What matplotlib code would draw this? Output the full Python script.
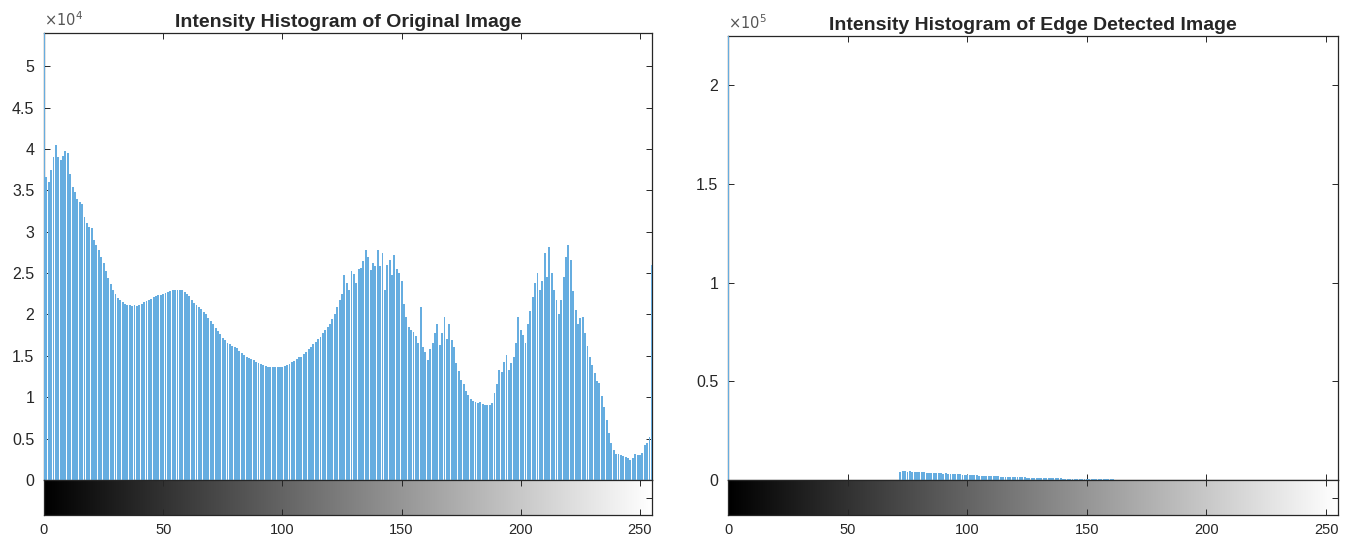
import numpy as np
import matplotlib
matplotlib.use("Agg")
import matplotlib.pyplot as plt
from matplotlib.ticker import FuncFormatter

plt.rcParams['font.family'] = ['Liberation Sans', 'DejaVu Sans']

levels = np.arange(256)

# counts (original image)
orig_counts = [
    54000, 36600, 36000, 37400, 39000, 40500, 39000, 38600, 39200, 39700, 39500, 37000, 35400, 34800, 34000, 33600,
    33400, 31800, 31000, 30600, 30500, 29000, 28400, 27800, 27000, 26200, 25200, 24400, 23700, 23000, 22500, 22000,
    21700, 21500, 21300, 21200, 21100, 21000, 21100, 21000, 21100, 21300, 21500, 21600, 21800, 21900, 22100, 22200,
    22300, 22400, 22500, 22600, 22700, 22800, 22900, 22900, 23000, 23000, 22900, 22700, 22500, 22200, 21800, 21400,
    21100, 20900, 20600, 20300, 20000, 19600, 19200, 18900, 18400, 18000, 17600, 17200, 16900, 16600, 16400, 16200,
    16100, 15900, 15600, 15300, 15100, 14900, 14700, 14600, 14500, 14300, 14100, 14000, 13900, 13800, 13700, 13700,
    13700, 13600, 13600, 13600, 13700, 13800, 13900, 14000, 14200, 14400, 14600, 14800, 14900, 15200, 15500, 15800,
    16100, 16400, 16700, 17000, 17300, 17700, 18100, 18500, 18900, 19500, 20100, 20900, 21800, 22500, 24800, 23800,
    23000, 25200, 24900, 23800, 25500, 25600, 26500, 27800, 26900, 25400, 26200, 25900, 27800, 25900, 27400, 22900,
    26000, 26600, 24800, 27200, 25500, 25000, 24000, 21300, 19700, 18500, 18100, 17900, 17400, 16500, 20900, 16100,
    15500, 14500, 15800, 16500, 17800, 18900, 16300, 17700, 19700, 17000, 18900, 16900, 16100, 14100, 13200, 12100,
    11600, 10700, 10300, 9800, 9500, 9400, 9300, 9400, 9200, 9000, 9100, 9000, 9300, 10500, 11600, 13300,
    13000, 14300, 15100, 13300, 14100, 14900, 16500, 19700, 18100, 17500, 16500, 18900, 20400, 22100, 23800, 25000,
    22900, 24000, 27400, 24500, 28200, 25000, 23000, 21700, 20100, 21700, 24500, 27000, 28400, 26600, 22800, 20500,
    18900, 19600, 19700, 17700, 16200, 14900, 13900, 12900, 12000, 11700, 10100, 8800, 7300, 5700, 4500, 3600,
    3200, 3100, 3000, 2900, 2800, 2600, 2400, 2700, 3200, 3000, 3000, 3300, 4200, 4500, 5200, 26000,
]

# counts (edge detected image)
edge_counts = [225000] + [0] * 71 + [
    4300, 4500, 4400, 4200, 4400, 4100, 4000, 4200, 3900, 3800, 3900, 3700, 3600, 3700, 3500, 3400,
    3500, 3300, 3200, 3300, 3100, 3000, 3000, 2900, 2800, 2800, 2700, 2600, 2600, 2500, 2400, 2400,
    2300, 2200, 2200, 2100, 2000, 2000, 1900, 1900, 1800, 1800, 1700, 1700, 1600, 1600, 1500, 1500,
    1400, 1400, 1400, 1300, 1300, 1200, 1200, 1200, 1100, 1100, 1100, 1000, 1000, 1000, 900, 900,
    900, 850, 800, 800, 750, 700, 700, 650, 650, 600, 600, 550, 550, 500, 500, 450,
    450, 400, 400, 380, 360, 340, 320, 300, 280, 260, 240, 220, 200, 180, 160, 140,
    120, 100, 80,
] + [0] * 85

titles = ["Intensity Histogram of Original Image", "Intensity Histogram of Edge Detected Image"]
exponents = [4, 5]
ymaxes = [54000, 225000]
ytick_steps = [5000, 50000]
xticks = [0, 50, 100, 150, 200, 250]

bar_color = '#66ade0'
ink = '#262626'

fig = plt.figure(figsize=(13.48, 5.42), dpi=100)

panels = [
    (0.0326, 0.1144, 0.4510, 0.8247),
    (0.5401, 0.1144, 0.4525, 0.8192),
]
cb_bottom, cb_height = 0.0498, 0.0646

for (left, bottom, width, height), counts, title, expo, ymax, step in zip(
        panels, [orig_counts, edge_counts], titles, exponents, ymaxes, ytick_steps):
    ax = fig.add_axes([left, bottom, width, height])
    # bars above the spines, as in the reference (bin 0 and 255 cover the frame)
    ax.bar(levels, counts, width=0.8, color=bar_color, linewidth=0, zorder=3)
    ax.set_xlim(0, 255)
    ax.set_ylim(0, ymax)
    ax.set_xticks(xticks)
    ax.set_yticks(np.arange(0, ymax + 1, step))
    scale = 10 ** expo
    ax.yaxis.set_major_formatter(FuncFormatter(lambda v, p, s=scale: '%g' % (v / s)))
    ax.tick_params(direction='in', top=True, right=True, labelbottom=False,
                   length=4, width=0.7, color=ink, labelsize=11.5, labelcolor=ink, pad=7)
    for sp in ax.spines.values():
        sp.set_color(ink)
        sp.set_linewidth(0.9)
    ax.set_title(title, fontsize=14, fontweight='bold', color=ink, pad=4)
    ax.text(0.0, 1.008, r'$\times10^{%d}$' % expo, transform=ax.transAxes,
            fontsize=10.5, color='#555555', ha='left', va='bottom')

    cb = fig.add_axes([left, cb_bottom, width, cb_height])
    grad = np.linspace(0, 255, 256).reshape(1, -1)
    cb.imshow(grad, cmap='gray', aspect='auto', extent=[0, 255, 0, 1], vmin=0, vmax=255)
    cb.set_xlim(0, 255)
    cb.set_ylim(0, 1)
    cb.set_xticks(xticks)
    cb.set_yticks([0.5])
    cb.tick_params(axis='x', direction='in', top=True, length=4, width=0.7, color=ink,
                   labelsize=10.5, labelcolor=ink, pad=6)
    cb.tick_params(axis='y', direction='in', left=False, right=True, labelleft=False,
                   length=4, width=0.7, color=ink)
    for sp in cb.spines.values():
        sp.set_color(ink)
        sp.set_linewidth(0.9)

fig.savefig('out.png', dpi=100)
